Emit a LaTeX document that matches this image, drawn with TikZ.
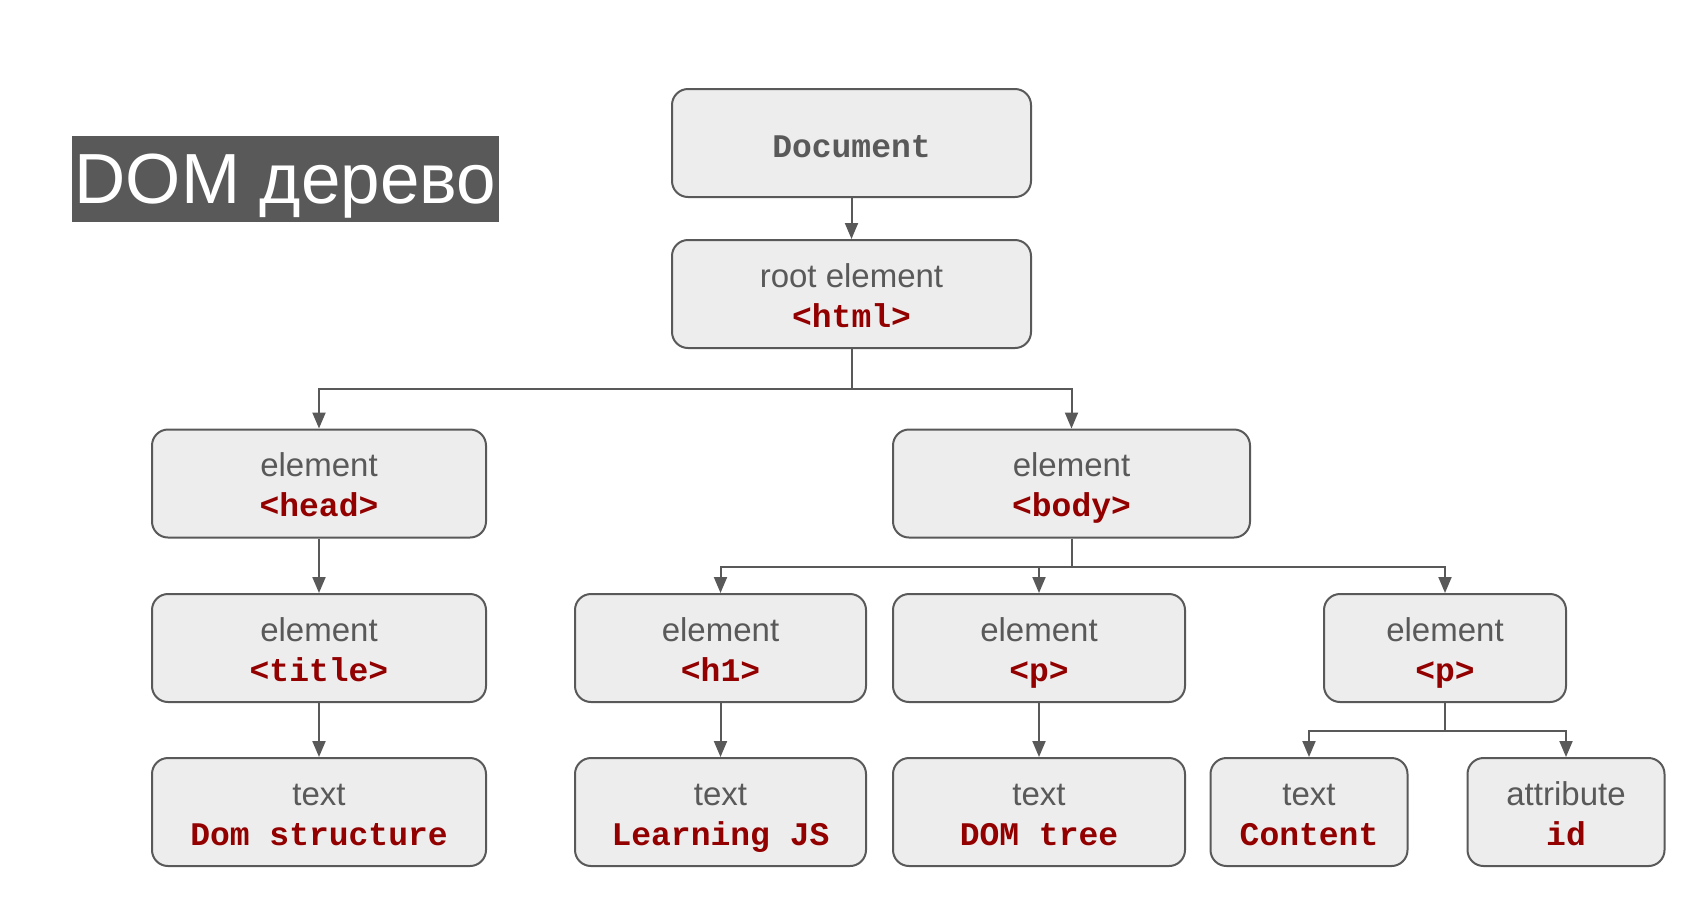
\documentclass[tikz,border=0pt]{standalone}
\usepackage{fontspec}
\setmainfont{Liberation Sans}
\newfontfamily\codefont{Liberation Mono}
\usetikzlibrary{arrows.meta}

\definecolor{linegray}{HTML}{595959}
\definecolor{boxfill}{HTML}{EDEDED}
\definecolor{tagred}{HTML}{920000}

\begin{document}
\begin{tikzpicture}[
    x=0.5pt, y=-0.5pt,
    box/.style={draw=linegray, line width=1pt, fill=boxfill, rounded corners=8pt, minimum height=54pt, inner sep=0pt},
    kind/.style={anchor=base, inner sep=0pt, text=linegray, font=\fontsize{16.5}{19}\selectfont},
    tag/.style={anchor=base, inner sep=0pt, text=tagred, font=\codefont\bfseries\fontsize{16.5}{19}\selectfont},
    arr/.style={draw=linegray, line width=1pt, -{Triangle[length=8pt,width=6.5pt]}},
    titleband/.style={fill=linegray, text=white, inner sep=0pt, minimum width=213.5pt, minimum height=43pt, text depth=0pt, font=\fontsize{35.5}{40}\selectfont}
  ]
  \useasboundingbox (0,0) rectangle (1681,902);

  % heading
  \node[titleband] (heading) at (285.5,179) {DOM дерево};

  % document and root
  \node[box, minimum width=179.5pt] (doc) at (851.5,143) {};
  \node[anchor=base, inner sep=0pt, text=linegray, font=\codefont\bfseries\fontsize{16.5}{19}\selectfont] (doc-name) at ([yshift=-7pt]doc.center) {Document};
  \node[box, minimum width=179.5pt] (root) at (851.5,294) {};
  \node[kind] (root-kind) at ([yshift=3.5pt]root.center) {root element};
  \node[tag] (root-tag) at ([yshift=-16.5pt]root.center) {<html>};

  % head branch
  \node[box, minimum width=167pt] (head) at (319,483.5) {};
  \node[kind] (head-kind) at ([yshift=3.5pt]head.center) {element};
  \node[tag] (head-tag) at ([yshift=-16.5pt]head.center) {<head>};
  \node[box, minimum width=167pt] (title) at (319,648) {};
  \node[kind] (title-kind) at ([yshift=3.5pt]title.center) {element};
  \node[tag] (title-tag) at ([yshift=-16.5pt]title.center) {<title>};
  \node[box, minimum width=167pt] (domstruct) at (319,812) {};
  \node[kind] (domstruct-kind) at ([yshift=3.5pt]domstruct.center) {text};
  \node[tag] (domstruct-tag) at ([yshift=-16.5pt]domstruct.center) {Dom structure};

  % body branch
  \node[box, minimum width=178.5pt] (body) at (1071.5,483.5) {};
  \node[kind] (body-kind) at ([yshift=3.5pt]body.center) {element};
  \node[tag] (body-tag) at ([yshift=-16.5pt]body.center) {<body>};

  \node[box, minimum width=145.5pt] (h1) at (720.5,648) {};
  \node[kind] (h1-kind) at ([yshift=3.5pt]h1.center) {element};
  \node[tag] (h1-tag) at ([yshift=-16.5pt]h1.center) {<h1>};
  \node[box, minimum width=145.5pt] (learning) at (720.5,812) {};
  \node[kind] (learning-kind) at ([yshift=3.5pt]learning.center) {text};
  \node[tag] (learning-tag) at ([yshift=-16.5pt]learning.center) {Learning JS};

  \node[box, minimum width=146pt] (p1) at (1039,648) {};
  \node[kind] (p1-kind) at ([yshift=3.5pt]p1.center) {element};
  \node[tag] (p1-tag) at ([yshift=-16.5pt]p1.center) {<p>};
  \node[box, minimum width=146pt] (domtree) at (1039,812) {};
  \node[kind] (domtree-kind) at ([yshift=3.5pt]domtree.center) {text};
  \node[tag] (domtree-tag) at ([yshift=-16.5pt]domtree.center) {DOM tree};

  \node[box, minimum width=121pt] (p2) at (1445,648) {};
  \node[kind] (p2-kind) at ([yshift=3.5pt]p2.center) {element};
  \node[tag] (p2-tag) at ([yshift=-16.5pt]p2.center) {<p>};
  \node[box, minimum width=98.5pt] (content) at (1309,812) {};
  \node[kind] (content-kind) at ([yshift=3.5pt]content.center) {text};
  \node[tag] (content-tag) at ([yshift=-16.5pt]content.center) {Content};
  \node[box, minimum width=98.5pt] (attr) at (1566,812) {};
  \node[kind] (attr-kind) at ([yshift=3.5pt]attr.center) {attribute};
  \node[tag] (attr-tag) at ([yshift=-16.5pt]attr.center) {id};

  % connectors
  \draw[arr] (doc.south) -- (root.north);
  \draw[arr] (root.south) -- ++(0,40) -| (head.north);
  \draw[arr] (root.south) -- ++(0,40) -| (body.north);
  \draw[arr] (head.south) -- (title.north);
  \draw[arr] (title.south) -- (domstruct.north);
  \draw[arr] (body.south) -- ++(0,28) -| (h1.north);
  \draw[arr] (body.south) -- ++(0,28) -| (p1.north);
  \draw[arr] (body.south) -- ++(0,28) -| (p2.north);
  \draw[arr] (h1.south) -- (learning.north);
  \draw[arr] (p1.south) -- (domtree.north);
  \draw[arr] (p2.south) -- ++(0,28) -| (content.north);
  \draw[arr] (p2.south) -- ++(0,28) -| (attr.north);

\end{tikzpicture}
\end{document}
